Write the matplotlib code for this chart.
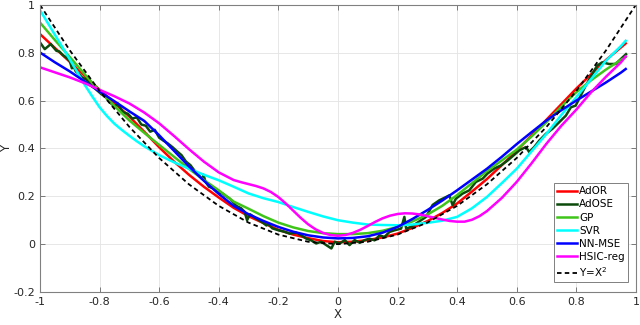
import matplotlib
matplotlib.use('Agg')
import matplotlib.pyplot as plt

# common x grid for the smooth estimators
x_grid = [-1.00, -0.95, -0.90, -0.85, -0.80, -0.75, -0.70, -0.65, -0.60, -0.55,
          -0.50, -0.45, -0.40, -0.35, -0.30, -0.25, -0.20, -0.15, -0.10, -0.05,
          0.00, 0.05, 0.10, 0.15, 0.20, 0.25, 0.30, 0.35, 0.40, 0.45,
          0.50, 0.55, 0.60, 0.65, 0.70, 0.75, 0.80, 0.85, 0.90, 0.95, 0.966]

y_ador = [0.878, 0.820, 0.762, 0.703, 0.645, 0.590, 0.533, 0.470, 0.405, 0.345,
          0.290, 0.240, 0.195, 0.152, 0.117, 0.088, 0.060, 0.040, 0.025, 0.013,
          0.008, 0.010, 0.017, 0.028, 0.044, 0.068, 0.096, 0.130, 0.170, 0.220,
          0.272, 0.330, 0.390, 0.455, 0.520, 0.585, 0.650, 0.710, 0.770, 0.822, 0.839]

y_gp = [0.926, 0.853, 0.782, 0.710, 0.640, 0.577, 0.517, 0.465, 0.415, 0.365,
        0.315, 0.268, 0.225, 0.178, 0.148, 0.117, 0.090, 0.070, 0.055, 0.046,
        0.042, 0.042, 0.046, 0.056, 0.072, 0.095, 0.123, 0.160, 0.205, 0.255,
        0.305, 0.350, 0.395, 0.450, 0.510, 0.575, 0.635, 0.685, 0.730, 0.770, 0.782]

y_nnmse = [0.801, 0.760, 0.722, 0.680, 0.638, 0.597, 0.555, 0.515, 0.455, 0.390,
           0.325, 0.265, 0.210, 0.160, 0.125, 0.097, 0.072, 0.052, 0.037, 0.028,
           0.024, 0.026, 0.033, 0.048, 0.072, 0.105, 0.142, 0.182, 0.225, 0.270,
           0.315, 0.365, 0.418, 0.468, 0.517, 0.560, 0.600, 0.638, 0.676, 0.717, 0.732]

# SVR bends sharply on the left, so it gets extra points there
x_svr = [-1.00, -0.95, -0.90, -0.85, -0.825, -0.80, -0.775, -0.75, -0.725, -0.70,
         -0.675, -0.65, -0.60, -0.55, -0.50, -0.45, -0.40, -0.35, -0.30, -0.25,
         -0.20, -0.15, -0.10, -0.05, 0.00, 0.05, 0.10, 0.15, 0.20, 0.25,
         0.30, 0.35, 0.40, 0.45, 0.50, 0.55, 0.60, 0.65, 0.70, 0.75,
         0.80, 0.85, 0.90, 0.95, 0.966]
y_svr = [0.978, 0.875, 0.772, 0.666, 0.618, 0.572, 0.535, 0.503, 0.477, 0.453,
         0.430, 0.409, 0.372, 0.342, 0.315, 0.290, 0.267, 0.240, 0.212, 0.192,
         0.176, 0.155, 0.135, 0.116, 0.100, 0.090, 0.082, 0.080, 0.079, 0.082,
         0.089, 0.098, 0.114, 0.150, 0.197, 0.255, 0.315, 0.388, 0.461, 0.540,
         0.614, 0.690, 0.767, 0.828, 0.850]

# HSIC-reg wiggles in the middle, finer points there
x_hsic = [-1.00, -0.95, -0.90, -0.85, -0.80, -0.75, -0.70, -0.65, -0.60, -0.55,
          -0.50, -0.45, -0.40, -0.35, -0.325, -0.30, -0.275, -0.25, -0.225, -0.20,
          -0.175, -0.15, -0.125, -0.10, -0.075, -0.05, -0.025, 0.00, 0.025, 0.05,
          0.075, 0.10, 0.125, 0.15, 0.175, 0.20, 0.225, 0.25, 0.275, 0.30,
          0.325, 0.35, 0.375, 0.40, 0.425, 0.45, 0.475, 0.50, 0.55, 0.60,
          0.65, 0.70, 0.75, 0.80, 0.85, 0.90, 0.95, 0.966]
y_hsic = [0.739, 0.718, 0.697, 0.673, 0.645, 0.618, 0.588, 0.550, 0.505, 0.452,
          0.397, 0.345, 0.300, 0.268, 0.259, 0.251, 0.243, 0.233, 0.218, 0.197,
          0.170, 0.140, 0.110, 0.083, 0.062, 0.047, 0.038, 0.035, 0.038, 0.047,
          0.060, 0.076, 0.093, 0.108, 0.119, 0.126, 0.129, 0.128, 0.124, 0.117,
          0.110, 0.103, 0.097, 0.094, 0.094, 0.102, 0.117, 0.138, 0.193, 0.260,
          0.338, 0.420, 0.495, 0.562, 0.635, 0.700, 0.760, 0.785]

# AdOSE is jagged, so it has its own x points
x_adose = [-1.000, -0.984, -0.964, -0.945, -0.935, -0.923, -0.912, -0.900, -0.893, -0.886,
           -0.880, -0.870, -0.860, -0.845, -0.830, -0.815, -0.795, -0.780, -0.765, -0.750,
           -0.739, -0.722, -0.705, -0.690, -0.675, -0.660, -0.645, -0.630, -0.615, -0.600,
           -0.585, -0.570, -0.555, -0.540, -0.525, -0.510, -0.495, -0.480, -0.465, -0.455,
           -0.451, -0.445, -0.433, -0.415, -0.400, -0.388, -0.375, -0.363, -0.341, -0.325,
           -0.313, -0.305, -0.295, -0.274, -0.252, -0.240, -0.235, -0.220, -0.200, -0.180,
           -0.162, -0.140, -0.123, -0.106, -0.090, -0.073, -0.056, -0.039, -0.022, -0.011,
           0.006, 0.023, 0.039, 0.056, 0.073, 0.090, 0.106, 0.123, 0.140, 0.156,
           0.173, 0.190, 0.212, 0.223, 0.229, 0.245, 0.262, 0.279, 0.296, 0.318,
           0.340, 0.363, 0.374, 0.385, 0.396, 0.418, 0.441, 0.463, 0.486, 0.502,
           0.525, 0.547, 0.570, 0.586, 0.609, 0.631, 0.642, 0.659, 0.676, 0.698,
           0.720, 0.743, 0.765, 0.782, 0.798, 0.815, 0.832, 0.854, 0.870, 0.887,
           0.910, 0.932, 0.949, 0.967]
y_adose = [0.843, 0.815, 0.836, 0.808, 0.805, 0.790, 0.780, 0.765, 0.735, 0.740,
           0.722, 0.712, 0.698, 0.688, 0.665, 0.650, 0.628, 0.615, 0.592, 0.575,
           0.588, 0.552, 0.545, 0.525, 0.530, 0.500, 0.495, 0.470, 0.478, 0.445,
           0.432, 0.420, 0.405, 0.388, 0.372, 0.345, 0.330, 0.305, 0.285, 0.272,
           0.290, 0.262, 0.240, 0.232, 0.215, 0.212, 0.200, 0.190, 0.160, 0.150,
           0.135, 0.100, 0.125, 0.107, 0.090, 0.078, 0.085, 0.066, 0.058, 0.052,
           0.044, 0.048, 0.037, 0.023, 0.016, 0.003, 0.010, -0.004, -0.018, 0.010,
           0.003, 0.017, -0.004, 0.017, 0.006, 0.017, 0.023, 0.016, 0.037, 0.030,
           0.051, 0.058, 0.065, 0.114, 0.065, 0.072, 0.086, 0.100, 0.114, 0.164,
           0.183, 0.197, 0.204, 0.163, 0.190, 0.211, 0.225, 0.260, 0.274, 0.295,
           0.316, 0.329, 0.350, 0.367, 0.392, 0.406, 0.385, 0.406, 0.433, 0.461,
           0.482, 0.510, 0.537, 0.572, 0.579, 0.621, 0.663, 0.711, 0.746, 0.760,
           0.753, 0.753, 0.773, 0.794]

# reference curve Y = X^2
x_ref = [-1.0, -0.9, -0.8, -0.7, -0.6, -0.5, -0.4, -0.3, -0.2, -0.1, 0.0,
         0.1, 0.2, 0.3, 0.4, 0.5, 0.6, 0.7, 0.8, 0.9, 1.0]
y_ref = [1.00, 0.81, 0.64, 0.49, 0.36, 0.25, 0.16, 0.09, 0.04, 0.01, 0.00,
         0.01, 0.04, 0.09, 0.16, 0.25, 0.36, 0.49, 0.64, 0.81, 1.00]

x_ticks = [-1, -0.8, -0.6, -0.4, -0.2, 0, 0.2, 0.4, 0.6, 0.8, 1]
x_tick_labels = ['-1', '-0.8', '-0.6', '-0.4', '-0.2', '0', '0.2', '0.4', '0.6', '0.8', '1']
y_ticks = [-0.2, 0, 0.2, 0.4, 0.6, 0.8, 1]
y_tick_labels = ['-0.2', '0', '0.2', '0.4', '0.6', '0.8', '1']


def main():
    fig = plt.figure(figsize=(6.4, 3.25), dpi=100)
    ax = fig.add_axes([0.0625, 0.1015, 0.931, 0.8835])

    lw = 1.8
    ax.plot(x_grid, y_ador, color='#ff0000', lw=lw, label='AdOR')
    ax.plot(x_adose, y_adose, color='#0b4a0b', lw=lw, label='AdOSE')
    ax.plot(x_grid, y_gp, color='#3fc41a', lw=lw, label='GP')
    ax.plot(x_svr, y_svr, color='#00ffff', lw=lw, label='SVR')
    ax.plot(x_grid, y_nnmse, color='#0000ff', lw=lw, label='NN-MSE')
    ax.plot(x_hsic, y_hsic, color='#ff00ff', lw=lw, label='HSIC-reg')
    ax.plot(x_ref, y_ref, color='black', lw=1.3, linestyle=(0, (2.5, 1.8)), label='Y=X$^2$')

    ax.set_xlim(-1, 1)
    ax.set_ylim(-0.2, 1)
    ax.set_xticks(x_ticks)
    ax.set_xticklabels(x_tick_labels)
    ax.set_yticks(y_ticks)
    ax.set_yticklabels(y_tick_labels)
    ax.tick_params(direction='in', length=3.5, width=0.6, colors='#666666',
                   labelcolor='#262626', labelsize=8, top=True, right=True)
    for s in ax.spines.values():
        s.set_color('#808080')
        s.set_linewidth(0.8)
    ax.grid(True, color='#e3e3e3', linewidth=0.6)
    ax.set_axisbelow(True)

    ax.set_xlabel('X', fontsize=8.5, color='#262626', labelpad=1)
    ax.set_ylabel('Y', fontsize=8.5, color='#262626')
    ax.yaxis.set_label_coords(-0.046, 0.5)

    leg = ax.legend(loc='lower right', bbox_to_anchor=(0.987, 0.035), borderaxespad=0,
                    fontsize=7.5, handlelength=1.9, handletextpad=0.2, labelspacing=0.3,
                    borderpad=0.3, fancybox=False, framealpha=1, edgecolor='#808080')
    leg.get_frame().set_linewidth(0.7)

    fig.savefig('out.png', dpi=100)


if __name__ == '__main__':
    main()
